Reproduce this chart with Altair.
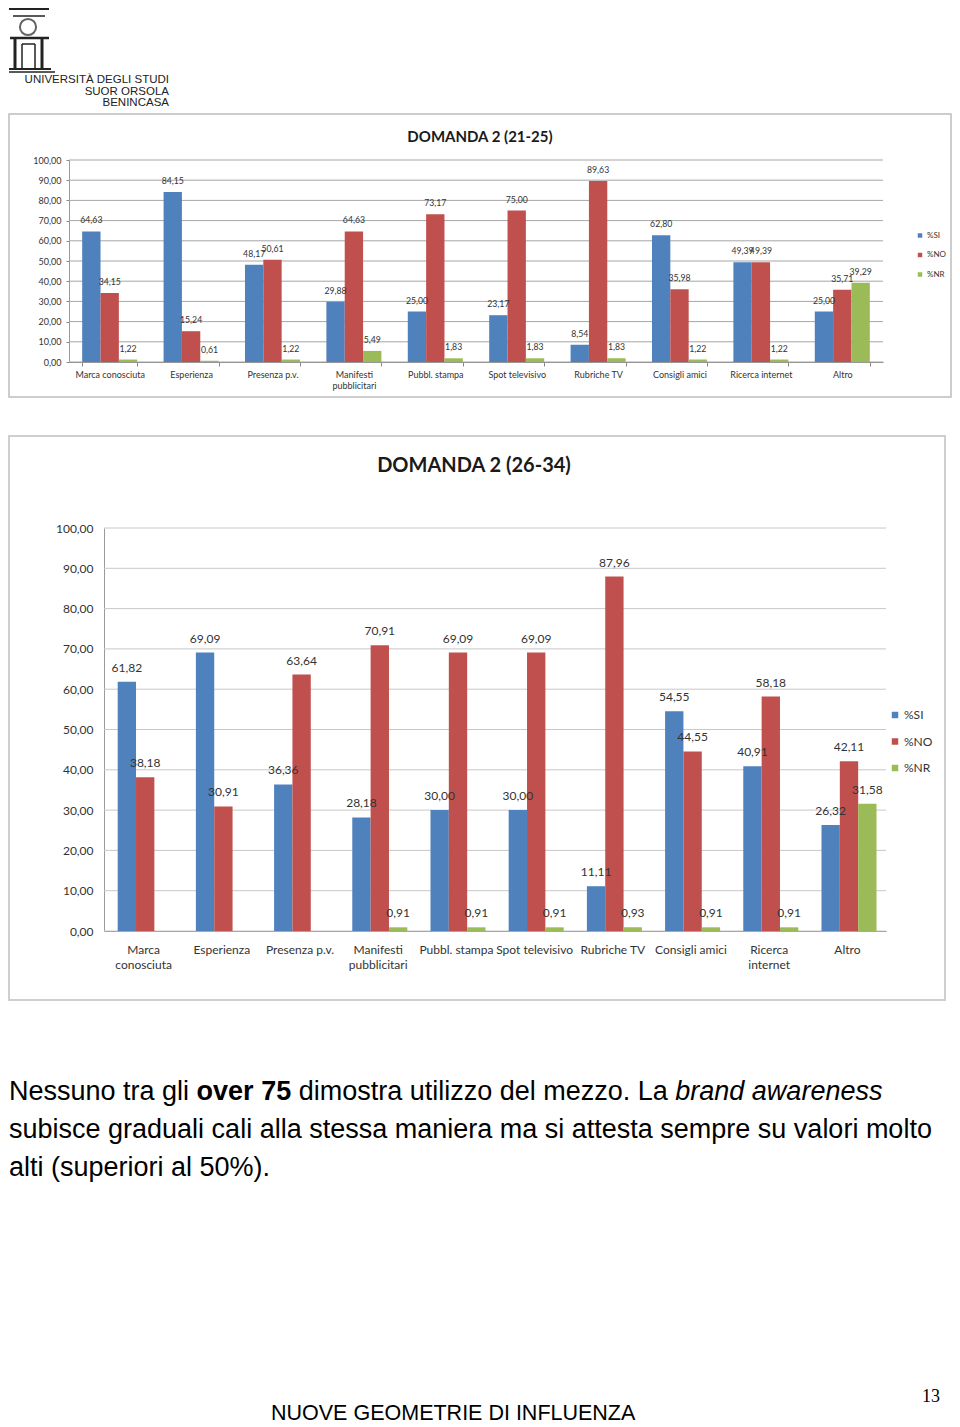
import altair as alt
import pandas as pd

# ---------------- data ----------------
categories = ["Marca conosciuta", "Esperienza", "Presenza p.v.", "Manifesti pubblicitari",
              "Pubbl. stampa", "Spot televisivo", "Rubriche TV", "Consigli amici",
              "Ricerca internet", "Altro"]
# axis labels ("|" = line break)
labels_21_25 = ["Marca conosciuta", "Esperienza", "Presenza p.v.", "Manifesti|pubblicitari",
                "Pubbl. stampa", "Spot televisivo", "Rubriche TV", "Consigli amici",
                "Ricerca internet", "Altro"]
labels_26_34 = ["Marca|conosciuta", "Esperienza", "Presenza p.v.", "Manifesti|pubblicitari",
                "Pubbl. stampa", "Spot televisivo", "Rubriche TV", "Consigli amici",
                "Ricerca|internet", "Altro"]
series = ["%SI", "%NO", "%NR"]

si_21_25 = [64.63, 84.15, 48.17, 29.88, 25.00, 23.17, 8.54, 62.80, 49.39, 25.00]
no_21_25 = [34.15, 15.24, 50.61, 64.63, 73.17, 75.00, 89.63, 35.98, 49.39, 35.71]
nr_21_25 = [1.22, 0.61, 1.22, 5.49, 1.83, 1.83, 1.83, 1.22, 1.22, 39.29]

si_26_34 = [61.82, 69.09, 36.36, 28.18, 30.00, 30.00, 11.11, 54.55, 40.91, 26.32]
no_26_34 = [38.18, 30.91, 63.64, 70.91, 69.09, 69.09, 87.96, 44.55, 58.18, 42.11]
nr_26_34 = [None, None, None, 0.91, 0.91, 0.91, 0.93, 0.91, 0.91, 31.58]

y_ticks = [0, 10, 20, 30, 40, 50, 60, 70, 80, 90, 100]
colors = ["#4f81bd", "#c0504d", "#9bbb59"]

title_1 = "DOMANDA 2 (21-25)"
title_2 = "DOMANDA 2 (26-34)"
logo_lines = ["UNIVERSITÀ DEGLI STUDI", "SUOR ORSOLA", "BENINCASA"]
para_1a = "Nessuno tra gli"
para_1b = "over 75"
para_1c = "dimostra utilizzo del mezzo. La"
para_1d = "brand awareness"
para_2 = "subisce graduali cali alla stessa maniera ma si attesta sempre su valori molto"
para_3 = "alti (superiori al 50%)."
page_no = "13"
footer = "NUOVE GEOMETRIE DI INFLUENZA"

FONT = "Lato"
TXT = "#333333"
PAGE_W = 942
one = pd.DataFrame({"k": [0]})


def txt(s, x, y, **kw):
    return alt.Chart(pd.DataFrame({"s": [s]})).mark_text(**kw).encode(
        text="s:N", x=alt.value(x), y=alt.value(y))


def rule(x, x2, y, y2, w=2):
    return alt.Chart(one).mark_rule(color="#222222", strokeWidth=w).encode(
        x=alt.value(x), x2=alt.value(x2), y=alt.value(y), y2=alt.value(y2))


def build_panel(cats, si, no, nr, title, g):
    rows = []
    for i, c in enumerate(cats):
        for s, vals in zip(series, (si, no, nr)):
            rows.append({"cat": c, "serie": s, "v": vals[i]})
    df = pd.DataFrame(rows)

    xs = alt.Scale(domain=cats, range=[g["x0"], g["x1"]],
                   paddingInner=g["pad"], paddingOuter=g["pad"] / 2)
    ys = alt.Scale(domain=[0, 100], range=[g["yb"], g["yt"]], nice=False, zero=True)
    offs = alt.Scale(domain=series, paddingInner=0, paddingOuter=0)

    yaxis = alt.Axis(title=None, orient="left", offset=-g["x0"], values=y_ticks, grid=False,
                     labelExpr="replace(format(datum.value, '.2f'), '.', ',')",
                     labelFont=FONT, labelFontSize=g["fs_axis"], labelColor=TXT,
                     ticks=g["yticks"], tickSize=g["ytick_size"], tickColor="#868686",
                     labelPadding=g["ylab_pad"], domainColor="#9a9a9a", domainWidth=1)
    xaxis = alt.Axis(title=None, orient="bottom", offset=-(g["H"] - g["yb"]), labelAngle=0,
                     labelExpr="split(datum.label, '|')", labelFont=FONT,
                     labelFontSize=g["fs_axis"], labelColor=TXT, labelOverlap=False,
                     labelLineHeight=g["lab_lh"], labelPadding=g["xlab_pad"],
                     ticks=g["xticks"], tickSize=g["xtick_size"], tickBand="extent",
                     tickColor="#868686", domainColor="#868686", domainWidth=1)

    grid = alt.Chart(pd.DataFrame({"t": y_ticks})).mark_rule(
        color=g["grid"], strokeWidth=1).encode(
        y=alt.Y("t:Q", scale=ys, axis=yaxis),
        x=alt.value(g["x0"]), x2=alt.value(g["x1"]))

    legend = alt.Legend(title=None, orient="none", legendX=g["lx"], legendY=g["ly"],
                        symbolType="square", symbolSize=g["lsym"], symbolStrokeWidth=0,
                        labelFont=FONT, labelFontSize=g["lfs"], labelColor=TXT,
                        rowPadding=g["lrow"], labelOffset=3, padding=0)

    bars = alt.Chart(df).mark_bar().encode(
        x=alt.X("cat:N", scale=xs, axis=xaxis),
        xOffset=alt.XOffset("serie:N", scale=offs),
        y=alt.Y("v:Q", scale=ys, axis=yaxis),
        color=alt.Color("serie:N", scale=alt.Scale(domain=series, range=colors),
                        legend=legend))

    labels = alt.Chart(df).transform_filter("isValid(datum.v)").transform_calculate(
        lab="replace(format(datum.v, '.2f'), '.', ',')").mark_text(
        font=FONT, fontSize=g["fs_lab"], color=TXT, baseline="middle",
        dy=-g["dy"]).encode(
        x=alt.X("cat:N", scale=xs, axis=xaxis),
        xOffset=alt.XOffset("serie:N", scale=offs),
        y=alt.Y("v:Q", scale=ys, axis=yaxis),
        text="lab:N")

    ttl = txt(title, g["tx"], g["ty"], font=FONT, fontSize=g["fs_title"], fontWeight="bold",
              color="#1a1a1a", align="center", baseline="middle")

    return alt.layer(grid, bars, labels, ttl).properties(
        width=g["W"], height=g["H"],
        view=alt.ViewBackground(stroke=g["frame"], strokeWidth=g["frame_w"]))


# panel coordinates: page x - 8, page y - panel top
g1 = dict(W=PAGE_W, H=283, x0=60, x1=874, yb=248, yt=46, pad=0.324,
          fs_axis=9, fs_lab=8.7, fs_title=15, tx=471, ty=23, dy=11,
          yticks=True, ytick_size=3, ylab_pad=5,
          xticks=True, xtick_size=4, xlab_pad=4, lab_lh=11,
          grid="#a6a6a6", lx=907, ly=117.5, lsym=20, lfs=8, lrow=11.5,
          frame="#bdbdbd", frame_w=1.5)

g2 = dict(W=936, H=564, x0=95, x1=877, yb=495, yt=92, pad=0.35,
          fs_axis=12, fs_lab=12, fs_title=20, tx=465, ty=30, dy=14,
          yticks=False, ytick_size=0, ylab_pad=11,
          xticks=False, xtick_size=0, xlab_pad=13, lab_lh=15,
          grid="#c8c8c8", lx=880, ly=273, lsym=42, lfs=12, lrow=14.5,
          frame="#cfcfcf", frame_w=2)

panel1 = build_panel(labels_21_25, si_21_25, no_21_25, nr_21_25, title_1, g1)
panel2 = build_panel(labels_26_34, si_26_34, no_26_34, nr_26_34, title_2, g2)

# ---------------- header (logo) ----------------
logo_circle = alt.Chart(one).mark_point(shape="circle", filled=False, size=260,
                                         color="#222222", strokeWidth=2).encode(
    x=alt.value(19), y=alt.value(19))
header = alt.layer(
    rule(0, 40, 1, 1, 2),
    rule(4, 36, 8, 8, 1.5),
    logo_circle,
    rule(1, 40, 30, 30, 2.5),
    rule(6, 6, 31, 60, 3),
    rule(33, 33, 31, 60, 3),
    rule(13, 13, 36, 60, 1.5),
    rule(26, 26, 36, 60, 1.5),
    rule(13, 26, 36, 36, 1.5),
    rule(0, 42, 61, 61, 2),
    rule(0, 46, 64, 64, 1.5),
    txt(logo_lines[0], 160, 72, font="Liberation Sans", fontSize=11.5, color="#222222",
        align="right", baseline="middle"),
    txt(logo_lines[1], 160, 84, font="Liberation Sans", fontSize=11.5, color="#222222",
        align="right", baseline="middle"),
    txt(logo_lines[2], 160, 95, font="Liberation Sans", fontSize=11.5, color="#222222",
        align="right", baseline="middle"),
).properties(width=PAGE_W, height=106)

spacer = alt.Chart(one).mark_rule(opacity=0).encode(
    x=alt.value(10), x2=alt.value(20), y=alt.value(10)).properties(width=PAGE_W, height=39)

# ---------------- text block ----------------
PF = "Liberation Sans"
PS = 27
text_block = alt.layer(
    txt(para_1a, 0, 92, font=PF, fontSize=PS, color="#000000", align="left"),
    txt(para_1b, 187.6, 92, font=PF, fontSize=PS, fontWeight="bold", color="#000000", align="left"),
    txt(para_1c, 289.7, 92, font=PF, fontSize=PS, color="#000000", align="left"),
    txt(para_1d, 666.3, 92, font=PF, fontSize=PS, fontStyle="italic", color="#000000", align="left"),
    txt(para_2, 0, 130, font=PF, fontSize=PS, color="#000000", align="left"),
    txt(para_3, 0, 168, font=PF, fontSize=PS, color="#000000", align="left"),
    txt(page_no, 922, 397, font="Liberation Serif", fontSize=18, color="#000000", align="center"),
    txt(footer, 262, 414, font=PF, fontSize=21.5, color="#000000", align="left"),
).properties(width=PAGE_W, height=419)

chart = alt.vconcat(header, panel1, spacer, panel2, text_block,
                    spacing=0, bounds="flush", padding=0).resolve_scale(
    color="independent", x="independent", y="independent").resolve_legend(
    color="independent").configure_view(stroke=None)

chart.save("out.html", embed_options={"renderer": "svg", "actions": False})
